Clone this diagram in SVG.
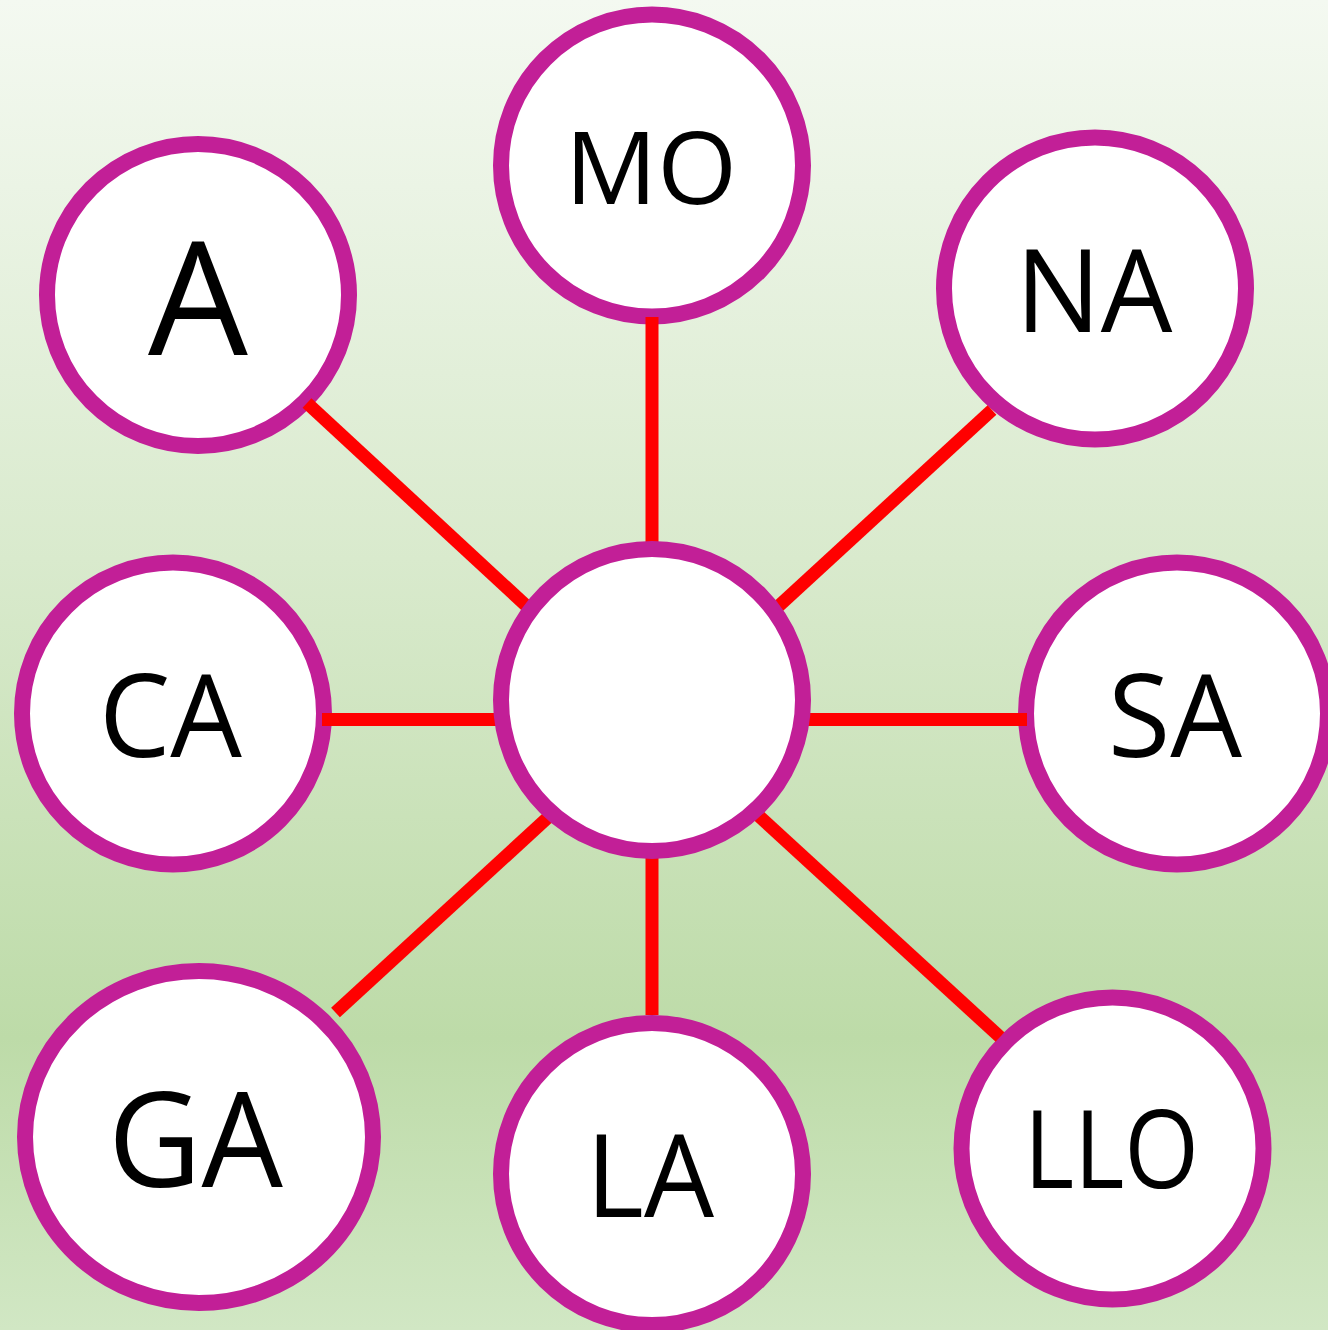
<svg xmlns="http://www.w3.org/2000/svg" width="1328" height="1330" viewBox="0 0 1328 1330">
  <defs>
    <linearGradient id="bg" x1="0" y1="0" x2="0" y2="1">
      <stop offset="0" stop-color="#f4f9f1"/>
      <stop offset="0.42" stop-color="#d9eacd"/>
      <stop offset="0.78" stop-color="#bddba8"/>
      <stop offset="1" stop-color="#d1e7c4"/>
    </linearGradient>
    <style>
      .node { fill: #ffffff; stroke: #c21f97; stroke-width: 16; }
      .edge { stroke: #ff0000; stroke-width: 13; stroke-linecap: butt; fill: none; }
      .lbl { font-family: "Open Sans", "Liberation Sans", sans-serif; fill: #000000; text-anchor: middle; }
    </style>
  </defs>
  <rect x="0" y="0" width="1328" height="1330" fill="url(#bg)"/>

  <g id="node-MO">
    <circle class="node" cx="652" cy="165.5" r="151"/>
    <text class="lbl" x="651" y="204" font-size="100" textLength="172" lengthAdjust="spacingAndGlyphs">MO</text>
  </g>
  <g id="node-A">
    <circle class="node" cx="198" cy="295" r="151"/>
    <text class="lbl" x="198" y="355" font-size="157" textLength="100" lengthAdjust="spacingAndGlyphs">A</text>
  </g>
  <g id="node-NA">
    <circle class="node" cx="1095" cy="288.5" r="151"/>
    <text class="lbl" x="1094" y="332" font-size="115" textLength="157" lengthAdjust="spacingAndGlyphs">NA</text>
  </g>
  <g id="node-CA">
    <circle class="node" cx="173" cy="713.5" r="151"/>
    <text class="lbl" x="170.5" y="757" font-size="115" textLength="143" lengthAdjust="spacingAndGlyphs">CA</text>
  </g>
  <g id="node-SA">
    <circle class="node" cx="1177" cy="713.5" r="151"/>
    <text class="lbl" x="1175" y="757" font-size="115" textLength="134" lengthAdjust="spacingAndGlyphs">SA</text>
  </g>
  <g id="node-GA">
    <ellipse class="node" cx="199" cy="1137" rx="174" ry="166"/>
    <text class="lbl" x="195.5" y="1187" font-size="132" textLength="175" lengthAdjust="spacingAndGlyphs">GA</text>
  </g>
  <g id="node-LA">
    <circle class="node" cx="652" cy="1174" r="151"/>
    <text class="lbl" x="650" y="1217" font-size="115" textLength="128" lengthAdjust="spacingAndGlyphs">LA</text>
  </g>
  <g id="node-LLO">
    <circle class="node" cx="1112.5" cy="1148.5" r="151"/>
    <text class="lbl" x="1111.5" y="1188" font-size="108" textLength="175" lengthAdjust="spacingAndGlyphs">LLO</text>
  </g>

  <g id="connectors">
    <line class="edge" x1="652" y1="317" x2="652" y2="600"/>
    <line class="edge" x1="652" y1="800" x2="652" y2="1015"/>
    <line class="edge" x1="322" y1="719.5" x2="560" y2="719.5"/>
    <line class="edge" x1="745" y1="719.5" x2="1027" y2="719.5"/>
    <line class="edge" x1="307" y1="403" x2="560" y2="637"/>
    <line class="edge" x1="992" y1="410" x2="745" y2="637"/>
    <line class="edge" x1="335.5" y1="1012.5" x2="580" y2="788"/>
    <line class="edge" x1="1000" y1="1037" x2="725" y2="785"/>
  </g>

  <g id="node-center">
    <circle class="node" cx="652" cy="700" r="151"/>
  </g>
</svg>
